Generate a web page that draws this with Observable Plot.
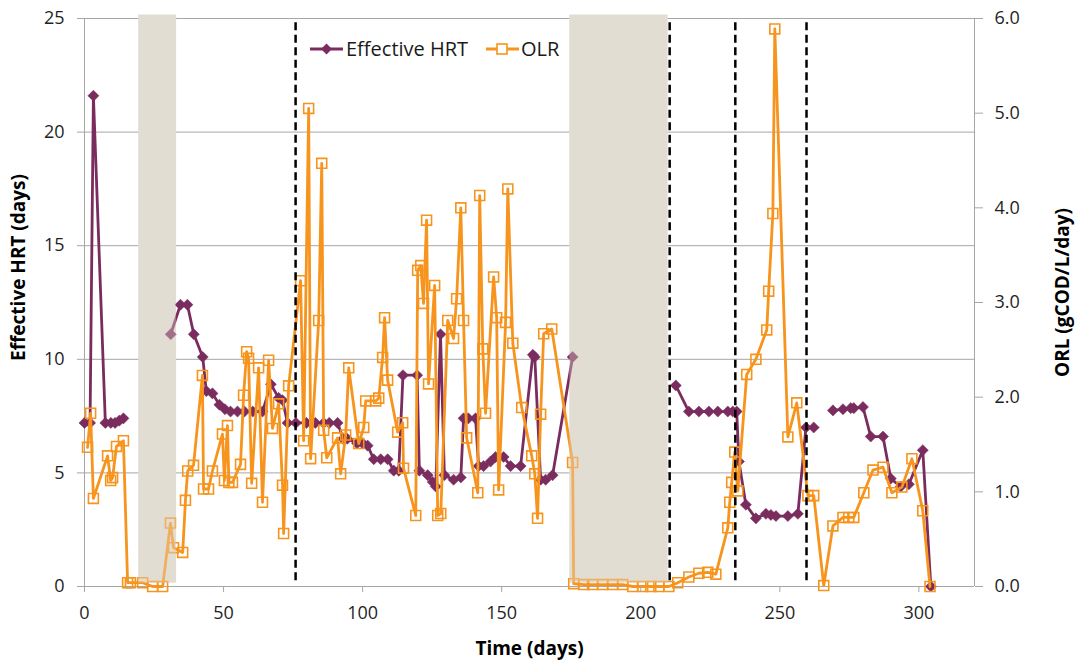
<!DOCTYPE html>
<html><head><meta charset="utf-8">
<script src="https://cdn.jsdelivr.net/npm/d3@7"></script>
<script src="https://cdn.jsdelivr.net/npm/@observablehq/plot@0.6"></script>
<style>
body{margin:0;background:#fff;font-family:"Open Sans",sans-serif;}
#wrap{position:relative;width:1077px;height:662px;}
.lg{position:absolute;top:35px;height:28px;line-height:28px;font-size:20px;color:#1a1a1a;white-space:nowrap;}
</style></head>
<body><div id="wrap"></div>
<script>
// ---- data ----
const seriesNames = ["Effective HRT", "OLR"];
const xLabel = "Time (days)";
const yLeftLabel = "Effective HRT (days)";
const yRightLabel = "ORL (gCOD/L/day)";
const xTicks = [0, 50, 100, 150, 200, 250, 300];
const hrtTicks = [0, 5, 10, 15, 20, 25];
const olrTicks = [0, 1, 2, 3, 4, 5, 6];

const hrtDays = [
  0, 2, 3.2, 7.5, 9.5, 11, 12.5, 14, 22, 31,
  34.5, 37, 39.3, 42.5, 43.8, 46, 48.5, 50.5, 52.5, 55,
  57.5, 60.5, 64, 67, 69.8, 71.2, 73, 76, 79.8, 83,
  86, 88, 91, 93, 94.5, 98, 100, 101.8, 104, 106.5,
  109, 111.2, 113, 114.5, 119.6, 120.4, 123.4, 125.2, 126.3, 128,
  129.4, 132.7, 135.3, 136.3, 138, 140.6, 141.7, 143.5, 146, 147.8,
  150.7, 153.2, 156.8, 161.2, 161.9, 164, 165.8, 168.3, 175.5, 190,
  212.6, 217.3, 220.9, 224.5, 227.7, 231.3, 233.1, 234.5, 235.3, 237.8,
  241.4, 245, 246.8, 248.6, 252.9, 256.5, 259.4, 262.2, 265, 269.1,
  272.7, 275.5, 276.6, 279.9, 282.7, 287.1, 289.9, 293.5, 296.4, 301.4,
  304.3
];
const hrtValues = [
  7.2, 7.2, 21.6, 7.2, 7.2, 7.2, 7.3, 7.4, null, 11.1,
  12.4, 12.4, 11.1, 10.1, 8.6, 8.5, 8.0, 7.8, 7.7, 7.7,
  7.7, 7.7, 7.7, 8.9, 8.3, 8.2, 7.2, 7.2, 7.2, 7.2,
  7.2, 7.2, 7.2, 6.5, 6.5, 6.3, 6.3, 6.2, 5.6, 5.6,
  5.6, 5.1, 5.1, 9.3, 9.3, 5.1, 4.9, 4.6, 4.4, 11.1,
  4.9, 4.7, 4.8, 7.4, 7.4, 7.4, 5.3, 5.3, 5.5, 5.7,
  5.7, 5.3, 5.3, 10.2, 10.1, 4.7, 4.7, 4.9, 10.1, null,
  8.85, 7.7, 7.7, 7.7, 7.7, 7.7, 7.7, 7.7, 5.5, 3.6,
  3.0, 3.2, 3.15, 3.1, 3.1, 3.2, 7.0, 7.0, null, 7.75,
  7.8, 7.85, 7.85, 7.9, 6.6, 6.6, 4.75, 4.4, 4.5, 6.0,
  0
];

const olrDays = [
  1.1, 2.2, 3.2, 8.3, 9.4, 10.1, 11.5, 14.0, 15.5, 16.5,
  20.9, 24.5, 28.1, 30.9, 32.0, 35.3, 36.3, 37.1, 39.2, 42.4,
  42.8, 44.6, 46.0, 49.6, 50.3, 51.4, 51.9, 53.2, 56.1, 57.2,
  58.3, 59.0, 60.1, 62.6, 64.0, 66.2, 67.6, 69.8, 71.2, 71.6,
  73.4, 77.7, 78.8, 80.6, 81.3, 84.2, 85.3, 86.0, 87.1, 91.0,
  92.1, 93.9, 95.0, 98.6, 100.4, 101.1, 104.7, 105.8, 107.2, 107.9,
  109.0, 112.6, 114.4, 114.7, 119.1, 119.8, 120.9, 121.9, 123.0, 123.7,
  125.9, 127.0, 128.1, 130.6, 132.7, 133.8, 135.3, 136.3, 137.4, 141.4,
  142.1, 143.2, 144.2, 147.1, 148.2, 148.9, 151.4, 152.2, 154.0, 157.2,
  160.8, 161.9, 162.9, 164.0, 165.1, 168.0, 175.5, 175.9, 179.5, 182.7,
  186.3, 189.9, 193.5, 197.1, 200.7, 203.6, 206.5, 210.1, 213.3, 217.3,
  220.9, 224.1, 227.0, 231.3, 232.0, 232.7, 233.8, 234.9, 238.1, 241.4,
  245.3, 246.0, 247.5, 248.2, 252.9, 256.1, 260.1, 262.2, 265.8, 269.1,
  272.7, 274.8, 276.6, 280.2, 283.5, 287.1, 290.3, 293.9, 297.5, 301.4,
  304.0
];
const olrValues = [
  1.47, 1.83, 0.93, 1.38, 1.12, 1.15, 1.48, 1.54, 0.04, 0.04,
  0.04, 0.0, 0.0, 0.67, 0.41, 0.36, 0.91, 1.22, 1.28, 2.23,
  1.03, 1.03, 1.22, 1.61, 1.12, 1.70, 1.10, 1.10, 1.29, 2.02,
  2.48, 2.41, 1.09, 2.31, 0.89, 2.39, 1.67, 1.93, 1.07, 0.56,
  2.12, 3.23, 1.54, 5.05, 1.35, 2.81, 4.47, 1.65, 1.36, 1.57,
  1.19, 1.60, 2.31, 1.51, 1.68, 1.96, 1.96, 1.99, 2.42, 2.84,
  2.18, 1.63, 1.73, 1.25, 0.75, 3.34, 3.39, 2.99, 3.87, 2.14,
  3.18, 0.75, 0.77, 2.81, 2.62, 3.04, 4.00, 2.81, 1.57, 0.99,
  4.13, 2.51, 1.83, 3.27, 2.84, 1.02, 2.79, 4.20, 2.57, 1.89,
  1.38, 1.19, 0.72, 1.82, 2.67, 2.72, 1.31, 0.03, 0.02, 0.02,
  0.02, 0.02, 0.02, 0.0, 0.0, 0.0, 0.0, 0.0, 0.04, 0.10,
  0.14, 0.15, 0.13, 0.62, 0.89, 1.10, 1.42, 1.01, 2.24, 2.40,
  2.71, 3.12, 3.94, 5.89, 1.58, 1.94, 0.96, 0.96, 0.01, 0.64,
  0.73, 0.73, 0.73, 0.99, 1.23, 1.26, 0.99, 1.05, 1.35, 0.80,
  0.0
];

const shadeStart = [19.5, 174.5];
const shadeEnd = [33.1, 209.8];
const phaseLines = [75.9, 210.4, 234.0, 259.6];

// ---- build ----
const purple = "#7b2c5e", orange = "#f7941d", shadeCol = "#e3ddd3", gridCol = "#a6a6a6";
const k = 25 / 6; // OLR axis (0–6) mapped onto HRT axis (0–25)
const hrt = hrtDays.map((d, i) => ({day: d, v: hrtValues[i]}));
const olr = olrDays.map((d, i) => ({day: d, v: olrValues[i] * k}));
const shades = shadeStart.map((s, i) => ({x1: s, x2: shadeEnd[i]}));

const chart = Plot.plot({
  width: 1077, height: 662,
  marginLeft: 84, marginRight: 103, marginTop: 18, marginBottom: 76,
  x: {domain: [0, 320], axis: null},
  y: {domain: [0, 25], axis: null},
  style: {fontFamily: "'Open Sans', sans-serif", fontSize: "18px", color: "#1f1f1f", background: "#fff"},
  marks: [
    Plot.ruleY(hrtTicks, {stroke: gridCol, strokeWidth: 1}),
    Plot.ruleX([0, 320], {stroke: gridCol, strokeWidth: 1}),
    Plot.rect(shades, {x1: "x1", x2: "x2", y1: 0.15, y2: 25.15, fill: shadeCol}),
    Plot.line(hrt, {x: "day", y: "v", stroke: purple, strokeWidth: 2.8}),
    Plot.dot(hrt.filter(d => d.v != null), {x: "day", y: "v", symbol: "diamond2", r: 5, fill: purple, stroke: purple, strokeWidth: 0.5}),
    Plot.line(olr, {x: "day", y: "v", stroke: orange, strokeWidth: 2.8}),
    Plot.dot(olr, {x: "day", y: "v", symbol: "square", r: 5.6, fill: "none", stroke: orange, strokeWidth: 1.6}),
    Plot.rect(shades, {x1: "x1", x2: "x2", y1: 0.15, y2: 25.15, fill: shadeCol, fillOpacity: 0.38}),
    Plot.ruleX(phaseLines, {y1: 0.25, y2: 25, stroke: "#000", strokeWidth: 2.5, strokeDasharray: "8,4.5"}),
    Plot.axisX({ticks: xTicks, tickSize: 6, tickPadding: 14, stroke: gridCol, fill: "#1f1f1f", fontSize: 18, label: null}),
    Plot.axisY({ticks: hrtTicks, anchor: "left", tickSize: 7, tickPadding: 13, stroke: gridCol, fill: "#1f1f1f", fontSize: 18, label: null}),
    Plot.axisY(olrTicks.map(v => v * k), {anchor: "right", tickSize: 8, tickPadding: 12, stroke: gridCol, fill: "#1f1f1f", fontSize: 18, label: null, tickFormat: d => (d / k).toFixed(1)}),
    Plot.text([yLeftLabel], {text: d => d, frameAnchor: "left", dx: -66, dy: -35, rotate: -90, textAnchor: "middle", lineAnchor: "middle", fontWeight: "bold", fontSize: 19, fill: "#000"}),
    Plot.text([yRightLabel], {text: d => d, frameAnchor: "right", dx: 88, dy: -10, rotate: -90, textAnchor: "middle", lineAnchor: "middle", fontWeight: "bold", fontSize: 19, fill: "#000"}),
    Plot.text([xLabel], {text: d => d, frameAnchor: "bottom", dy: 62, textAnchor: "middle", lineAnchor: "middle", fontWeight: "bold", fontSize: 19, fill: "#000"})
  ]
});
const wrap = document.getElementById("wrap");
wrap.appendChild(chart);

// legend overlay (inside plot area, top)
const legendHTML = `
<svg class="lg" style="left:306px" width="40" height="28"><line x1="4" y1="14" x2="37" y2="14" stroke="${purple}" stroke-width="3"/><path d="M20.5 8.5L26 14L20.5 19.5L15 14Z" fill="${purple}"/></svg>
<span class="lg" style="left:346px">${seriesNames[0]}</span>
<svg class="lg" style="left:482px" width="40" height="28"><line x1="4" y1="14" x2="37" y2="14" stroke="${orange}" stroke-width="3"/><rect x="15" y="9" width="10" height="10" fill="#fff" stroke="${orange}" stroke-width="1.6"/></svg>
<span class="lg" style="left:521px">${seriesNames[1]}</span>`;
const lg = document.createElement("div");
lg.innerHTML = legendHTML;
wrap.appendChild(lg);
</script>
</body></html>
